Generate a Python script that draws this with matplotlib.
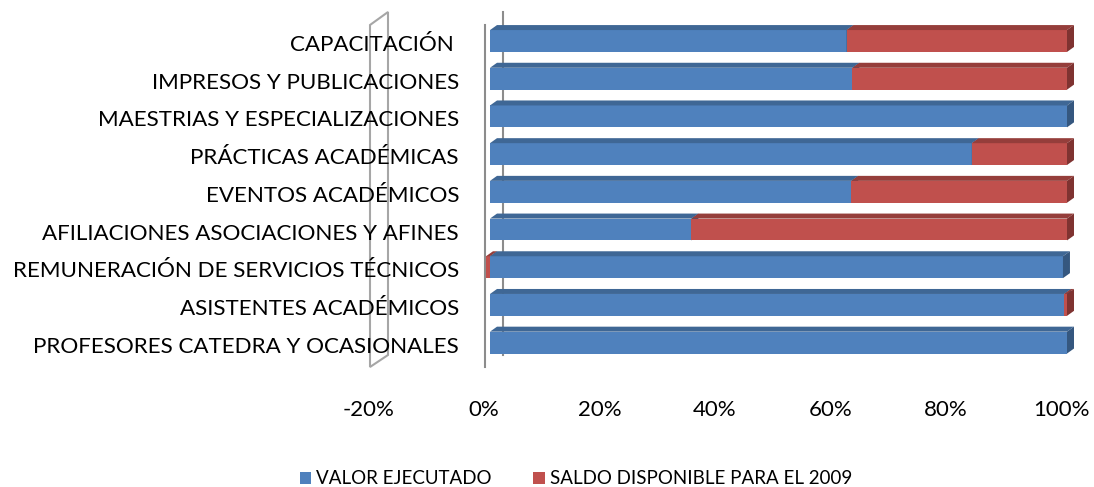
import matplotlib
matplotlib.use("Agg")
import numpy as np
import matplotlib.pyplot as plt
from matplotlib.patches import Polygon, Patch
from matplotlib.transforms import ScaledTranslation

# categories, top to bottom
categorias = ['CAPACITACIÓN ', 'IMPRESOS Y PUBLICACIONES', 'MAESTRIAS Y ESPECIALIZACIONES',
              'PRÁCTICAS ACADÉMICAS', 'EVENTOS ACADÉMICOS', 'AFILIACIONES ASOCIACIONES Y AFINES',
              'REMUNERACIÓN DE SERVICIOS TÉCNICOS', 'ASISTENTES ACADÉMICOS',
              'PROFESORES CATEDRA Y OCASIONALES']
valor_ejecutado = [61.8, 62.8, 100.0, 83.5, 62.6, 34.9, 99.3, 99.5, 100.0]
saldo_disponible = [38.2, 37.2, 0.0, 16.5, 37.4, 65.1, -0.7, 0.5, 0.0]
series = ['VALOR EJECUTADO', 'SALDO DISPONIBLE PARA EL 2009']
xticks = [-20, 0, 20, 40, 60, 80, 100]

plt.rcParams['font.family'] = ['Lato', 'DejaVu Sans']

W, H = 1094, 487
fig = plt.figure(figsize=(W / 100, H / 100), dpi=100)
# axes: x -20 -> 375px, 1pct = 5.77px ; y row i centre = 41 + 37.7*i px
px = 5.77
x0 = 490 - 20 * px
x1 = 490 + 102 * px
ytop, ybot = 8, 367
ax = fig.add_axes([x0 / W, 1 - ybot / H, (x1 - x0) / W, (ybot - ytop) / H])
ax.set_xlim(-20, 102)
ax.set_ylim((ybot - 41) / 37.7, (ytop - 41) / 37.7)
for s in ax.spines.values():
    s.set_visible(False)
ax.set_yticks([])
ax.set_xticks([])

# depth of the bars
dx = 7 / px
dy = 5 / 37.7
h = 0.58

colores = {
    'front': ['#4F81BD', '#C0504D'],
    'top': ['#3F6795', '#953E3B'],
    'side': ['#35577F', '#7F3331'],
}

# gray wall at -20% and 0% grid lines
wall_f, wall_b = (370 - 490) / px, (388 - 490) / px
yf0, yf1 = (367 - 41) / 37.7, (25 - 41) / 37.7
yb0, yb1 = (355 - 41) / 37.7, (12 - 41) / 37.7
ax.add_patch(Polygon([(wall_f, yf0), (wall_f, yf1), (wall_b, yb1), (wall_b, yb0)],
                     closed=True, fill=False, edgecolor='#A6A6A6', lw=1.5, zorder=1,
                     clip_on=False))
ax.plot([(485 - 490) / px] * 2, [yf0, yf1], color='#8C8C8C', lw=1.5, zorder=1, clip_on=False)
ax.plot([(503 - 490) / px] * 2, [yb0, yb1], color='#8C8C8C', lw=1.5, zorder=1, clip_on=False)


def bar3d(left, width, y, k, z):
    if width == 0:
        return
    a, b = min(left, left + width), max(left, left + width)
    top, bot = y - h / 2, y + h / 2
    ax.add_patch(plt.Rectangle((a, top), b - a, h, facecolor=colores['front'][k],
                               edgecolor='none', zorder=z))
    ax.add_patch(Polygon([(a, top), (b, top), (b + dx, top - dy), (a + dx, top - dy)],
                         closed=True, facecolor=colores['top'][k], edgecolor='none', zorder=z))
    ax.add_patch(Polygon([(b, top), (b + dx, top - dy), (b + dx, bot - dy), (b, bot)],
                         closed=True, facecolor=colores['side'][k], edgecolor='none', zorder=z))


for i in range(len(categorias)):
    v, r = valor_ejecutado[i], saldo_disponible[i]
    if r < 0:
        bar3d(0, r, i, 1, 3)
        bar3d(0, v, i, 0, 4)
    else:
        bar3d(0, v, i, 0, 3)
        bar3d(v, r, i, 1, 4)

# category labels
for i, c in enumerate(categorias):
    fig.text(459 / W, 1 - (41 + 37.7 * i + 4) / H, c, ha='right', va='center',
             fontsize=16.1, color='black')

# x tick labels
off = ScaledTranslation(-6 / 100, 0, fig.dpi_scale_trans)
for t in xticks:
    ax.text(t, 1 - (410 - ytop) / (ybot - ytop), f'{t}%', transform=ax.get_xaxis_transform() + off,
            ha='center', va='center', fontsize=16)

handles = [Patch(facecolor=colores['front'][k], edgecolor='none') for k in range(2)]
fig.legend(handles, series, loc='center', bbox_to_anchor=(576 / W, 1 - 479 / H), ncol=2,
           frameon=False, fontsize=13.5, handlelength=0.6, handleheight=0.6,
           handletextpad=0.3, columnspacing=2.2, borderpad=0)

fig.savefig('out.png', dpi=100)
